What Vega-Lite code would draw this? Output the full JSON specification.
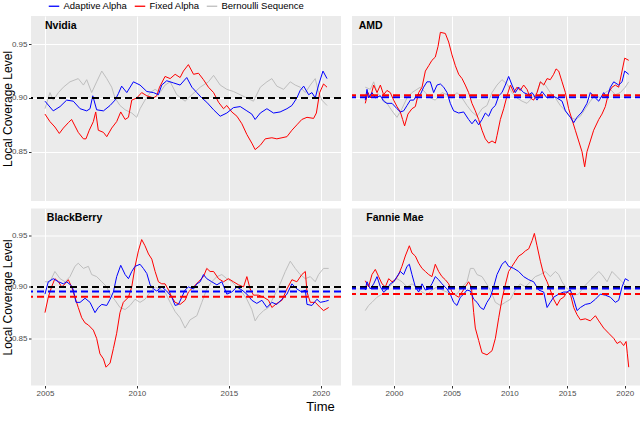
{
"$schema": "https://vega.github.io/schema/vega-lite/v6.json",
"padding": {"left": 1, "top": 0, "right": 0, "bottom": 0},
"background": "white",
"config": {
  "view": {"fill": "#EBEBEB", "stroke": null},
  "axis": {"domain": false, "gridColor": "#FFFFFF", "labelFont": "Liberation Sans", "labelFontSize": 8, "labelColor": "#4D4D4D", "labelPadding": 1.5, "tickColor": "#333333", "tickSize": 2.5, "tickWidth": 1, "titleFont": "Liberation Sans", "titleFontWeight": "normal", "titleFontSize": 12, "titleColor": "#000000", "labelOverlap": false, "labelFlush": false, "labelBound": false},
  "legend": {"symbolType": "stroke", "symbolStrokeWidth": 1.3, "symbolSize": 110, "labelFont": "Liberation Sans", "labelFontSize": 9.5, "labelColor": "#000000", "labelOffset": 3.5, "columnPadding": 4, "padding": 0, "symbolOffset": 0}
},
"datasets": {
"hlines": [
{"panel":"Nvidia","series":"Target","level":0.9},
{"panel":"AMD","series":"Adaptive Alpha","level":0.9006},{"panel":"AMD","series":"Fixed Alpha","level":0.9025},
{"panel":"BlackBerry","series":"Target","level":0.9},{"panel":"BlackBerry","series":"Adaptive Alpha","level":0.8955},{"panel":"BlackBerry","series":"Fixed Alpha","level":0.8905},
{"panel":"Fannie Mae","series":"Target","level":0.9},{"panel":"Fannie Mae","series":"Adaptive Alpha","level":0.8984},{"panel":"Fannie Mae","series":"Fixed Alpha","level":0.8932}
],
"lines": [
{"panel":"Nvidia","series":"Bernoulli Sequence","year":2005.00,"level":0.890},
{"panel":"Nvidia","series":"Bernoulli Sequence","year":2005.27,"level":0.905},
{"panel":"Nvidia","series":"Bernoulli Sequence","year":2005.45,"level":0.898},
{"panel":"Nvidia","series":"Bernoulli Sequence","year":2005.73,"level":0.905},
{"panel":"Nvidia","series":"Bernoulli Sequence","year":2006.00,"level":0.910},
{"panel":"Nvidia","series":"Bernoulli Sequence","year":2006.36,"level":0.915},
{"panel":"Nvidia","series":"Bernoulli Sequence","year":2006.81,"level":0.918},
{"panel":"Nvidia","series":"Bernoulli Sequence","year":2007.09,"level":0.912},
{"panel":"Nvidia","series":"Bernoulli Sequence","year":2007.27,"level":0.917},
{"panel":"Nvidia","series":"Bernoulli Sequence","year":2007.54,"level":0.905},
{"panel":"Nvidia","series":"Bernoulli Sequence","year":2007.81,"level":0.915},
{"panel":"Nvidia","series":"Bernoulli Sequence","year":2008.09,"level":0.925},
{"panel":"Nvidia","series":"Bernoulli Sequence","year":2008.36,"level":0.918},
{"panel":"Nvidia","series":"Bernoulli Sequence","year":2008.63,"level":0.910},
{"panel":"Nvidia","series":"Bernoulli Sequence","year":2008.81,"level":0.900},
{"panel":"Nvidia","series":"Bernoulli Sequence","year":2009.08,"level":0.893},
{"panel":"Nvidia","series":"Bernoulli Sequence","year":2009.36,"level":0.889},
{"panel":"Nvidia","series":"Bernoulli Sequence","year":2009.72,"level":0.886},
{"panel":"Nvidia","series":"Bernoulli Sequence","year":2009.99,"level":0.882},
{"panel":"Nvidia","series":"Bernoulli Sequence","year":2010.17,"level":0.890},
{"panel":"Nvidia","series":"Bernoulli Sequence","year":2010.44,"level":0.898},
{"panel":"Nvidia","series":"Bernoulli Sequence","year":2010.72,"level":0.905},
{"panel":"Nvidia","series":"Bernoulli Sequence","year":2010.99,"level":0.908},
{"panel":"Nvidia","series":"Bernoulli Sequence","year":2011.26,"level":0.905},
{"panel":"Nvidia","series":"Bernoulli Sequence","year":2011.53,"level":0.912},
{"panel":"Nvidia","series":"Bernoulli Sequence","year":2011.81,"level":0.915},
{"panel":"Nvidia","series":"Bernoulli Sequence","year":2012.17,"level":0.903},
{"panel":"Nvidia","series":"Bernoulli Sequence","year":2012.62,"level":0.897},
{"panel":"Nvidia","series":"Bernoulli Sequence","year":2012.99,"level":0.903},
{"panel":"Nvidia","series":"Bernoulli Sequence","year":2013.44,"level":0.910},
{"panel":"Nvidia","series":"Bernoulli Sequence","year":2013.89,"level":0.915},
{"panel":"Nvidia","series":"Bernoulli Sequence","year":2014.17,"level":0.921},
{"panel":"Nvidia","series":"Bernoulli Sequence","year":2014.53,"level":0.912},
{"panel":"Nvidia","series":"Bernoulli Sequence","year":2014.89,"level":0.908},
{"panel":"Nvidia","series":"Bernoulli Sequence","year":2015.25,"level":0.906},
{"panel":"Nvidia","series":"Bernoulli Sequence","year":2015.62,"level":0.903},
{"panel":"Nvidia","series":"Bernoulli Sequence","year":2015.98,"level":0.900},
{"panel":"Nvidia","series":"Bernoulli Sequence","year":2016.34,"level":0.897},
{"panel":"Nvidia","series":"Bernoulli Sequence","year":2016.71,"level":0.910},
{"panel":"Nvidia","series":"Bernoulli Sequence","year":2017.07,"level":0.915},
{"panel":"Nvidia","series":"Bernoulli Sequence","year":2017.34,"level":0.918},
{"panel":"Nvidia","series":"Bernoulli Sequence","year":2017.61,"level":0.911},
{"panel":"Nvidia","series":"Bernoulli Sequence","year":2017.98,"level":0.908},
{"panel":"Nvidia","series":"Bernoulli Sequence","year":2018.34,"level":0.915},
{"panel":"Nvidia","series":"Bernoulli Sequence","year":2018.61,"level":0.912},
{"panel":"Nvidia","series":"Bernoulli Sequence","year":2018.88,"level":0.910},
{"panel":"Nvidia","series":"Bernoulli Sequence","year":2019.16,"level":0.905},
{"panel":"Nvidia","series":"Bernoulli Sequence","year":2019.43,"level":0.912},
{"panel":"Nvidia","series":"Bernoulli Sequence","year":2019.70,"level":0.918},
{"panel":"Nvidia","series":"Bernoulli Sequence","year":2019.88,"level":0.905},
{"panel":"Nvidia","series":"Bernoulli Sequence","year":2020.06,"level":0.898},
{"panel":"Nvidia","series":"Bernoulli Sequence","year":2020.34,"level":0.893},
{"panel":"AMD","series":"Bernoulli Sequence","year":1997.51,"level":0.910},
{"panel":"AMD","series":"Bernoulli Sequence","year":1997.95,"level":0.908},
{"panel":"AMD","series":"Bernoulli Sequence","year":1998.24,"level":0.915},
{"panel":"AMD","series":"Bernoulli Sequence","year":1998.53,"level":0.905},
{"panel":"AMD","series":"Bernoulli Sequence","year":1998.96,"level":0.900},
{"panel":"AMD","series":"Bernoulli Sequence","year":1999.39,"level":0.895},
{"panel":"AMD","series":"Bernoulli Sequence","year":1999.83,"level":0.888},
{"panel":"AMD","series":"Bernoulli Sequence","year":2000.26,"level":0.882},
{"panel":"AMD","series":"Bernoulli Sequence","year":2000.69,"level":0.890},
{"panel":"AMD","series":"Bernoulli Sequence","year":2001.13,"level":0.900},
{"panel":"AMD","series":"Bernoulli Sequence","year":2001.56,"level":0.905},
{"panel":"AMD","series":"Bernoulli Sequence","year":2001.99,"level":0.908},
{"panel":"AMD","series":"Bernoulli Sequence","year":2002.28,"level":0.910},
{"panel":"AMD","series":"Bernoulli Sequence","year":2002.72,"level":0.905},
{"panel":"AMD","series":"Bernoulli Sequence","year":2003.15,"level":0.900},
{"panel":"AMD","series":"Bernoulli Sequence","year":2003.58,"level":0.898},
{"panel":"AMD","series":"Bernoulli Sequence","year":2004.16,"level":0.905},
{"panel":"AMD","series":"Bernoulli Sequence","year":2004.60,"level":0.903},
{"panel":"AMD","series":"Bernoulli Sequence","year":2005.03,"level":0.900},
{"panel":"AMD","series":"Bernoulli Sequence","year":2005.46,"level":0.905},
{"panel":"AMD","series":"Bernoulli Sequence","year":2005.90,"level":0.900},
{"panel":"AMD","series":"Bernoulli Sequence","year":2006.33,"level":0.893},
{"panel":"AMD","series":"Bernoulli Sequence","year":2006.76,"level":0.887},
{"panel":"AMD","series":"Bernoulli Sequence","year":2007.20,"level":0.883},
{"panel":"AMD","series":"Bernoulli Sequence","year":2007.63,"level":0.890},
{"panel":"AMD","series":"Bernoulli Sequence","year":2008.06,"level":0.893},
{"panel":"AMD","series":"Bernoulli Sequence","year":2008.50,"level":0.905},
{"panel":"AMD","series":"Bernoulli Sequence","year":2008.93,"level":0.912},
{"panel":"AMD","series":"Bernoulli Sequence","year":2009.36,"level":0.917},
{"panel":"AMD","series":"Bernoulli Sequence","year":2009.80,"level":0.913},
{"panel":"AMD","series":"Bernoulli Sequence","year":2010.23,"level":0.905},
{"panel":"AMD","series":"Bernoulli Sequence","year":2010.66,"level":0.900},
{"panel":"AMD","series":"Bernoulli Sequence","year":2011.10,"level":0.897},
{"panel":"AMD","series":"Bernoulli Sequence","year":2011.53,"level":0.895},
{"panel":"AMD","series":"Bernoulli Sequence","year":2011.97,"level":0.900},
{"panel":"AMD","series":"Bernoulli Sequence","year":2012.40,"level":0.905},
{"panel":"AMD","series":"Bernoulli Sequence","year":2012.69,"level":0.915},
{"panel":"AMD","series":"Bernoulli Sequence","year":2013.12,"level":0.912},
{"panel":"AMD","series":"Bernoulli Sequence","year":2013.55,"level":0.905},
{"panel":"AMD","series":"Bernoulli Sequence","year":2013.99,"level":0.900},
{"panel":"AMD","series":"Bernoulli Sequence","year":2014.42,"level":0.893},
{"panel":"AMD","series":"Bernoulli Sequence","year":2014.86,"level":0.888},
{"panel":"AMD","series":"Bernoulli Sequence","year":2015.29,"level":0.882},
{"panel":"AMD","series":"Bernoulli Sequence","year":2015.72,"level":0.880},
{"panel":"AMD","series":"Bernoulli Sequence","year":2016.16,"level":0.883},
{"panel":"AMD","series":"Bernoulli Sequence","year":2016.59,"level":0.890},
{"panel":"AMD","series":"Bernoulli Sequence","year":2017.02,"level":0.897},
{"panel":"AMD","series":"Bernoulli Sequence","year":2017.46,"level":0.903},
{"panel":"AMD","series":"Bernoulli Sequence","year":2017.89,"level":0.900},
{"panel":"AMD","series":"Bernoulli Sequence","year":2018.32,"level":0.905},
{"panel":"AMD","series":"Bernoulli Sequence","year":2018.76,"level":0.908},
{"panel":"AMD","series":"Bernoulli Sequence","year":2019.19,"level":0.903},
{"panel":"AMD","series":"Bernoulli Sequence","year":2019.62,"level":0.905},
{"panel":"AMD","series":"Bernoulli Sequence","year":2020.05,"level":0.910},
{"panel":"AMD","series":"Bernoulli Sequence","year":2020.35,"level":0.915},
{"panel":"BlackBerry","series":"Bernoulli Sequence","year":2005.00,"level":0.905},
{"panel":"BlackBerry","series":"Bernoulli Sequence","year":2005.27,"level":0.905},
{"panel":"BlackBerry","series":"Bernoulli Sequence","year":2005.54,"level":0.915},
{"panel":"BlackBerry","series":"Bernoulli Sequence","year":2005.82,"level":0.908},
{"panel":"BlackBerry","series":"Bernoulli Sequence","year":2006.09,"level":0.905},
{"panel":"BlackBerry","series":"Bernoulli Sequence","year":2006.36,"level":0.910},
{"panel":"BlackBerry","series":"Bernoulli Sequence","year":2006.63,"level":0.920},
{"panel":"BlackBerry","series":"Bernoulli Sequence","year":2006.81,"level":0.923},
{"panel":"BlackBerry","series":"Bernoulli Sequence","year":2007.09,"level":0.918},
{"panel":"BlackBerry","series":"Bernoulli Sequence","year":2007.36,"level":0.920},
{"panel":"BlackBerry","series":"Bernoulli Sequence","year":2007.54,"level":0.912},
{"panel":"BlackBerry","series":"Bernoulli Sequence","year":2007.81,"level":0.910},
{"panel":"BlackBerry","series":"Bernoulli Sequence","year":2008.09,"level":0.905},
{"panel":"BlackBerry","series":"Bernoulli Sequence","year":2008.36,"level":0.900},
{"panel":"BlackBerry","series":"Bernoulli Sequence","year":2008.54,"level":0.893},
{"panel":"BlackBerry","series":"Bernoulli Sequence","year":2008.81,"level":0.887},
{"panel":"BlackBerry","series":"Bernoulli Sequence","year":2009.08,"level":0.880},
{"panel":"BlackBerry","series":"Bernoulli Sequence","year":2009.36,"level":0.878},
{"panel":"BlackBerry","series":"Bernoulli Sequence","year":2009.63,"level":0.882},
{"panel":"BlackBerry","series":"Bernoulli Sequence","year":2009.90,"level":0.888},
{"panel":"BlackBerry","series":"Bernoulli Sequence","year":2010.17,"level":0.885},
{"panel":"BlackBerry","series":"Bernoulli Sequence","year":2010.44,"level":0.888},
{"panel":"BlackBerry","series":"Bernoulli Sequence","year":2010.72,"level":0.895},
{"panel":"BlackBerry","series":"Bernoulli Sequence","year":2010.99,"level":0.900},
{"panel":"BlackBerry","series":"Bernoulli Sequence","year":2011.26,"level":0.898},
{"panel":"BlackBerry","series":"Bernoulli Sequence","year":2011.53,"level":0.895},
{"panel":"BlackBerry","series":"Bernoulli Sequence","year":2011.81,"level":0.885},
{"panel":"BlackBerry","series":"Bernoulli Sequence","year":2012.08,"level":0.876},
{"panel":"BlackBerry","series":"Bernoulli Sequence","year":2012.35,"level":0.870},
{"panel":"BlackBerry","series":"Bernoulli Sequence","year":2012.62,"level":0.860},
{"panel":"BlackBerry","series":"Bernoulli Sequence","year":2012.89,"level":0.868},
{"panel":"BlackBerry","series":"Bernoulli Sequence","year":2013.26,"level":0.872},
{"panel":"BlackBerry","series":"Bernoulli Sequence","year":2013.53,"level":0.885},
{"panel":"BlackBerry","series":"Bernoulli Sequence","year":2013.80,"level":0.898},
{"panel":"BlackBerry","series":"Bernoulli Sequence","year":2014.07,"level":0.905},
{"panel":"BlackBerry","series":"Bernoulli Sequence","year":2014.35,"level":0.910},
{"panel":"BlackBerry","series":"Bernoulli Sequence","year":2014.62,"level":0.912},
{"panel":"BlackBerry","series":"Bernoulli Sequence","year":2014.89,"level":0.908},
{"panel":"BlackBerry","series":"Bernoulli Sequence","year":2015.16,"level":0.905},
{"panel":"BlackBerry","series":"Bernoulli Sequence","year":2015.44,"level":0.900},
{"panel":"BlackBerry","series":"Bernoulli Sequence","year":2015.71,"level":0.895},
{"panel":"BlackBerry","series":"Bernoulli Sequence","year":2015.98,"level":0.888},
{"panel":"BlackBerry","series":"Bernoulli Sequence","year":2016.25,"level":0.878},
{"panel":"BlackBerry","series":"Bernoulli Sequence","year":2016.43,"level":0.867},
{"panel":"BlackBerry","series":"Bernoulli Sequence","year":2016.61,"level":0.872},
{"panel":"BlackBerry","series":"Bernoulli Sequence","year":2016.89,"level":0.877},
{"panel":"BlackBerry","series":"Bernoulli Sequence","year":2017.16,"level":0.880},
{"panel":"BlackBerry","series":"Bernoulli Sequence","year":2017.43,"level":0.890},
{"panel":"BlackBerry","series":"Bernoulli Sequence","year":2017.79,"level":0.903},
{"panel":"BlackBerry","series":"Bernoulli Sequence","year":2018.07,"level":0.915},
{"panel":"BlackBerry","series":"Bernoulli Sequence","year":2018.34,"level":0.925},
{"panel":"BlackBerry","series":"Bernoulli Sequence","year":2018.61,"level":0.918},
{"panel":"BlackBerry","series":"Bernoulli Sequence","year":2018.88,"level":0.912},
{"panel":"BlackBerry","series":"Bernoulli Sequence","year":2019.16,"level":0.908},
{"panel":"BlackBerry","series":"Bernoulli Sequence","year":2019.43,"level":0.910},
{"panel":"BlackBerry","series":"Bernoulli Sequence","year":2019.70,"level":0.905},
{"panel":"BlackBerry","series":"Bernoulli Sequence","year":2019.88,"level":0.912},
{"panel":"BlackBerry","series":"Bernoulli Sequence","year":2020.15,"level":0.918},
{"panel":"BlackBerry","series":"Bernoulli Sequence","year":2020.43,"level":0.918},
{"panel":"Fannie Mae","series":"Bernoulli Sequence","year":1997.51,"level":0.877},
{"panel":"Fannie Mae","series":"Bernoulli Sequence","year":1997.80,"level":0.882},
{"panel":"Fannie Mae","series":"Bernoulli Sequence","year":1998.09,"level":0.885},
{"panel":"Fannie Mae","series":"Bernoulli Sequence","year":1998.53,"level":0.890},
{"panel":"Fannie Mae","series":"Bernoulli Sequence","year":1998.96,"level":0.893},
{"panel":"Fannie Mae","series":"Bernoulli Sequence","year":1999.39,"level":0.897},
{"panel":"Fannie Mae","series":"Bernoulli Sequence","year":1999.83,"level":0.903},
{"panel":"Fannie Mae","series":"Bernoulli Sequence","year":2000.26,"level":0.908},
{"panel":"Fannie Mae","series":"Bernoulli Sequence","year":2000.69,"level":0.905},
{"panel":"Fannie Mae","series":"Bernoulli Sequence","year":2001.13,"level":0.900},
{"panel":"Fannie Mae","series":"Bernoulli Sequence","year":2001.56,"level":0.903},
{"panel":"Fannie Mae","series":"Bernoulli Sequence","year":2001.99,"level":0.900},
{"panel":"Fannie Mae","series":"Bernoulli Sequence","year":2002.43,"level":0.895},
{"panel":"Fannie Mae","series":"Bernoulli Sequence","year":2002.86,"level":0.892},
{"panel":"Fannie Mae","series":"Bernoulli Sequence","year":2003.29,"level":0.897},
{"panel":"Fannie Mae","series":"Bernoulli Sequence","year":2003.73,"level":0.900},
{"panel":"Fannie Mae","series":"Bernoulli Sequence","year":2004.16,"level":0.897},
{"panel":"Fannie Mae","series":"Bernoulli Sequence","year":2004.60,"level":0.895},
{"panel":"Fannie Mae","series":"Bernoulli Sequence","year":2005.03,"level":0.893},
{"panel":"Fannie Mae","series":"Bernoulli Sequence","year":2005.46,"level":0.893},
{"panel":"Fannie Mae","series":"Bernoulli Sequence","year":2005.90,"level":0.900},
{"panel":"Fannie Mae","series":"Bernoulli Sequence","year":2006.33,"level":0.905},
{"panel":"Fannie Mae","series":"Bernoulli Sequence","year":2006.62,"level":0.918},
{"panel":"Fannie Mae","series":"Bernoulli Sequence","year":2006.91,"level":0.918},
{"panel":"Fannie Mae","series":"Bernoulli Sequence","year":2007.20,"level":0.912},
{"panel":"Fannie Mae","series":"Bernoulli Sequence","year":2007.63,"level":0.910},
{"panel":"Fannie Mae","series":"Bernoulli Sequence","year":2007.92,"level":0.905},
{"panel":"Fannie Mae","series":"Bernoulli Sequence","year":2008.35,"level":0.897},
{"panel":"Fannie Mae","series":"Bernoulli Sequence","year":2008.79,"level":0.885},
{"panel":"Fannie Mae","series":"Bernoulli Sequence","year":2009.22,"level":0.882},
{"panel":"Fannie Mae","series":"Bernoulli Sequence","year":2009.65,"level":0.885},
{"panel":"Fannie Mae","series":"Bernoulli Sequence","year":2010.09,"level":0.888},
{"panel":"Fannie Mae","series":"Bernoulli Sequence","year":2010.52,"level":0.897},
{"panel":"Fannie Mae","series":"Bernoulli Sequence","year":2010.95,"level":0.903},
{"panel":"Fannie Mae","series":"Bernoulli Sequence","year":2011.39,"level":0.900},
{"panel":"Fannie Mae","series":"Bernoulli Sequence","year":2011.82,"level":0.905},
{"panel":"Fannie Mae","series":"Bernoulli Sequence","year":2012.25,"level":0.910},
{"panel":"Fannie Mae","series":"Bernoulli Sequence","year":2012.69,"level":0.912},
{"panel":"Fannie Mae","series":"Bernoulli Sequence","year":2013.12,"level":0.915},
{"panel":"Fannie Mae","series":"Bernoulli Sequence","year":2013.55,"level":0.910},
{"panel":"Fannie Mae","series":"Bernoulli Sequence","year":2013.99,"level":0.915},
{"panel":"Fannie Mae","series":"Bernoulli Sequence","year":2014.28,"level":0.912},
{"panel":"Fannie Mae","series":"Bernoulli Sequence","year":2014.57,"level":0.905},
{"panel":"Fannie Mae","series":"Bernoulli Sequence","year":2014.86,"level":0.900},
{"panel":"Fannie Mae","series":"Bernoulli Sequence","year":2015.14,"level":0.897},
{"panel":"Fannie Mae","series":"Bernoulli Sequence","year":2015.58,"level":0.892},
{"panel":"Fannie Mae","series":"Bernoulli Sequence","year":2016.01,"level":0.893},
{"panel":"Fannie Mae","series":"Bernoulli Sequence","year":2016.45,"level":0.900},
{"panel":"Fannie Mae","series":"Bernoulli Sequence","year":2016.88,"level":0.905},
{"panel":"Fannie Mae","series":"Bernoulli Sequence","year":2017.31,"level":0.910},
{"panel":"Fannie Mae","series":"Bernoulli Sequence","year":2017.75,"level":0.915},
{"panel":"Fannie Mae","series":"Bernoulli Sequence","year":2018.03,"level":0.912},
{"panel":"Fannie Mae","series":"Bernoulli Sequence","year":2018.47,"level":0.905},
{"panel":"Fannie Mae","series":"Bernoulli Sequence","year":2018.90,"level":0.915},
{"panel":"Fannie Mae","series":"Bernoulli Sequence","year":2019.34,"level":0.910},
{"panel":"Fannie Mae","series":"Bernoulli Sequence","year":2019.77,"level":0.905},
{"panel":"Fannie Mae","series":"Bernoulli Sequence","year":2020.20,"level":0.900},
{"panel":"Nvidia","series":"Fixed Alpha","year":2005.00,"level":0.885},
{"panel":"Nvidia","series":"Fixed Alpha","year":2005.27,"level":0.878},
{"panel":"Nvidia","series":"Fixed Alpha","year":2005.54,"level":0.873},
{"panel":"Nvidia","series":"Fixed Alpha","year":2005.78,"level":0.867},
{"panel":"Nvidia","series":"Fixed Alpha","year":2006.00,"level":0.872},
{"panel":"Nvidia","series":"Fixed Alpha","year":2006.27,"level":0.877},
{"panel":"Nvidia","series":"Fixed Alpha","year":2006.45,"level":0.880},
{"panel":"Nvidia","series":"Fixed Alpha","year":2006.63,"level":0.874},
{"panel":"Nvidia","series":"Fixed Alpha","year":2006.81,"level":0.868},
{"panel":"Nvidia","series":"Fixed Alpha","year":2007.09,"level":0.862},
{"panel":"Nvidia","series":"Fixed Alpha","year":2007.23,"level":0.862},
{"panel":"Nvidia","series":"Fixed Alpha","year":2007.41,"level":0.870},
{"panel":"Nvidia","series":"Fixed Alpha","year":2007.63,"level":0.878},
{"panel":"Nvidia","series":"Fixed Alpha","year":2007.76,"level":0.887},
{"panel":"Nvidia","series":"Fixed Alpha","year":2007.90,"level":0.870},
{"panel":"Nvidia","series":"Fixed Alpha","year":2008.18,"level":0.868},
{"panel":"Nvidia","series":"Fixed Alpha","year":2008.36,"level":0.864},
{"panel":"Nvidia","series":"Fixed Alpha","year":2008.63,"level":0.872},
{"panel":"Nvidia","series":"Fixed Alpha","year":2008.90,"level":0.878},
{"panel":"Nvidia","series":"Fixed Alpha","year":2009.12,"level":0.887},
{"panel":"Nvidia","series":"Fixed Alpha","year":2009.36,"level":0.880},
{"panel":"Nvidia","series":"Fixed Alpha","year":2009.54,"level":0.882},
{"panel":"Nvidia","series":"Fixed Alpha","year":2009.72,"level":0.898},
{"panel":"Nvidia","series":"Fixed Alpha","year":2009.99,"level":0.900},
{"panel":"Nvidia","series":"Fixed Alpha","year":2010.26,"level":0.905},
{"panel":"Nvidia","series":"Fixed Alpha","year":2010.54,"level":0.902},
{"panel":"Nvidia","series":"Fixed Alpha","year":2010.90,"level":0.900},
{"panel":"Nvidia","series":"Fixed Alpha","year":2011.08,"level":0.902},
{"panel":"Nvidia","series":"Fixed Alpha","year":2011.23,"level":0.910},
{"panel":"Nvidia","series":"Fixed Alpha","year":2011.53,"level":0.920},
{"panel":"Nvidia","series":"Fixed Alpha","year":2011.81,"level":0.918},
{"panel":"Nvidia","series":"Fixed Alpha","year":2012.08,"level":0.922},
{"panel":"Nvidia","series":"Fixed Alpha","year":2012.35,"level":0.919},
{"panel":"Nvidia","series":"Fixed Alpha","year":2012.53,"level":0.925},
{"panel":"Nvidia","series":"Fixed Alpha","year":2012.80,"level":0.931},
{"panel":"Nvidia","series":"Fixed Alpha","year":2013.08,"level":0.922},
{"panel":"Nvidia","series":"Fixed Alpha","year":2013.35,"level":0.923},
{"panel":"Nvidia","series":"Fixed Alpha","year":2013.62,"level":0.917},
{"panel":"Nvidia","series":"Fixed Alpha","year":2013.89,"level":0.910},
{"panel":"Nvidia","series":"Fixed Alpha","year":2014.17,"level":0.905},
{"panel":"Nvidia","series":"Fixed Alpha","year":2014.44,"level":0.896},
{"panel":"Nvidia","series":"Fixed Alpha","year":2014.71,"level":0.890},
{"panel":"Nvidia","series":"Fixed Alpha","year":2014.89,"level":0.893},
{"panel":"Nvidia","series":"Fixed Alpha","year":2015.16,"level":0.887},
{"panel":"Nvidia","series":"Fixed Alpha","year":2015.44,"level":0.883},
{"panel":"Nvidia","series":"Fixed Alpha","year":2015.71,"level":0.876},
{"panel":"Nvidia","series":"Fixed Alpha","year":2015.98,"level":0.866},
{"panel":"Nvidia","series":"Fixed Alpha","year":2016.25,"level":0.858},
{"panel":"Nvidia","series":"Fixed Alpha","year":2016.43,"level":0.852},
{"panel":"Nvidia","series":"Fixed Alpha","year":2016.71,"level":0.856},
{"panel":"Nvidia","series":"Fixed Alpha","year":2016.98,"level":0.862},
{"panel":"Nvidia","series":"Fixed Alpha","year":2017.34,"level":0.863},
{"panel":"Nvidia","series":"Fixed Alpha","year":2017.61,"level":0.862},
{"panel":"Nvidia","series":"Fixed Alpha","year":2017.89,"level":0.863},
{"panel":"Nvidia","series":"Fixed Alpha","year":2018.16,"level":0.864},
{"panel":"Nvidia","series":"Fixed Alpha","year":2018.43,"level":0.870},
{"panel":"Nvidia","series":"Fixed Alpha","year":2018.70,"level":0.875},
{"panel":"Nvidia","series":"Fixed Alpha","year":2018.97,"level":0.880},
{"panel":"Nvidia","series":"Fixed Alpha","year":2019.25,"level":0.882},
{"panel":"Nvidia","series":"Fixed Alpha","year":2019.61,"level":0.881},
{"panel":"Nvidia","series":"Fixed Alpha","year":2019.76,"level":0.886},
{"panel":"Nvidia","series":"Fixed Alpha","year":2019.94,"level":0.905},
{"panel":"Nvidia","series":"Fixed Alpha","year":2020.15,"level":0.913},
{"panel":"Nvidia","series":"Fixed Alpha","year":2020.34,"level":0.910},
{"panel":"AMD","series":"Fixed Alpha","year":1997.51,"level":0.895},
{"panel":"AMD","series":"Fixed Alpha","year":1997.75,"level":0.905},
{"panel":"AMD","series":"Fixed Alpha","year":1997.95,"level":0.900},
{"panel":"AMD","series":"Fixed Alpha","year":1998.24,"level":0.912},
{"panel":"AMD","series":"Fixed Alpha","year":1998.53,"level":0.905},
{"panel":"AMD","series":"Fixed Alpha","year":1998.82,"level":0.912},
{"panel":"AMD","series":"Fixed Alpha","year":1999.10,"level":0.903},
{"panel":"AMD","series":"Fixed Alpha","year":1999.39,"level":0.907},
{"panel":"AMD","series":"Fixed Alpha","year":1999.68,"level":0.905},
{"panel":"AMD","series":"Fixed Alpha","year":1999.97,"level":0.898},
{"panel":"AMD","series":"Fixed Alpha","year":2000.26,"level":0.892},
{"panel":"AMD","series":"Fixed Alpha","year":2000.55,"level":0.887},
{"panel":"AMD","series":"Fixed Alpha","year":2000.75,"level":0.880},
{"panel":"AMD","series":"Fixed Alpha","year":2000.92,"level":0.874},
{"panel":"AMD","series":"Fixed Alpha","year":2001.21,"level":0.885},
{"panel":"AMD","series":"Fixed Alpha","year":2001.56,"level":0.890},
{"panel":"AMD","series":"Fixed Alpha","year":2001.85,"level":0.892},
{"panel":"AMD","series":"Fixed Alpha","year":2002.14,"level":0.905},
{"panel":"AMD","series":"Fixed Alpha","year":2002.43,"level":0.910},
{"panel":"AMD","series":"Fixed Alpha","year":2002.72,"level":0.925},
{"panel":"AMD","series":"Fixed Alpha","year":2003.01,"level":0.930},
{"panel":"AMD","series":"Fixed Alpha","year":2003.29,"level":0.935},
{"panel":"AMD","series":"Fixed Alpha","year":2003.58,"level":0.938},
{"panel":"AMD","series":"Fixed Alpha","year":2003.82,"level":0.948},
{"panel":"AMD","series":"Fixed Alpha","year":2004.02,"level":0.961},
{"panel":"AMD","series":"Fixed Alpha","year":2004.45,"level":0.960},
{"panel":"AMD","series":"Fixed Alpha","year":2004.74,"level":0.952},
{"panel":"AMD","series":"Fixed Alpha","year":2005.03,"level":0.940},
{"panel":"AMD","series":"Fixed Alpha","year":2005.32,"level":0.930},
{"panel":"AMD","series":"Fixed Alpha","year":2005.61,"level":0.922},
{"panel":"AMD","series":"Fixed Alpha","year":2005.90,"level":0.918},
{"panel":"AMD","series":"Fixed Alpha","year":2006.18,"level":0.912},
{"panel":"AMD","series":"Fixed Alpha","year":2006.47,"level":0.905},
{"panel":"AMD","series":"Fixed Alpha","year":2006.76,"level":0.895},
{"panel":"AMD","series":"Fixed Alpha","year":2007.05,"level":0.888},
{"panel":"AMD","series":"Fixed Alpha","year":2007.34,"level":0.880},
{"panel":"AMD","series":"Fixed Alpha","year":2007.63,"level":0.870},
{"panel":"AMD","series":"Fixed Alpha","year":2007.92,"level":0.862},
{"panel":"AMD","series":"Fixed Alpha","year":2008.21,"level":0.858},
{"panel":"AMD","series":"Fixed Alpha","year":2008.50,"level":0.860},
{"panel":"AMD","series":"Fixed Alpha","year":2008.79,"level":0.858},
{"panel":"AMD","series":"Fixed Alpha","year":2008.93,"level":0.865},
{"panel":"AMD","series":"Fixed Alpha","year":2009.22,"level":0.880},
{"panel":"AMD","series":"Fixed Alpha","year":2009.51,"level":0.890},
{"panel":"AMD","series":"Fixed Alpha","year":2009.80,"level":0.902},
{"panel":"AMD","series":"Fixed Alpha","year":2010.09,"level":0.912},
{"panel":"AMD","series":"Fixed Alpha","year":2010.38,"level":0.905},
{"panel":"AMD","series":"Fixed Alpha","year":2010.66,"level":0.910},
{"panel":"AMD","series":"Fixed Alpha","year":2010.95,"level":0.907},
{"panel":"AMD","series":"Fixed Alpha","year":2011.24,"level":0.912},
{"panel":"AMD","series":"Fixed Alpha","year":2011.53,"level":0.908},
{"panel":"AMD","series":"Fixed Alpha","year":2011.82,"level":0.900},
{"panel":"AMD","series":"Fixed Alpha","year":2012.11,"level":0.898},
{"panel":"AMD","series":"Fixed Alpha","year":2012.40,"level":0.905},
{"panel":"AMD","series":"Fixed Alpha","year":2012.69,"level":0.915},
{"panel":"AMD","series":"Fixed Alpha","year":2012.98,"level":0.912},
{"panel":"AMD","series":"Fixed Alpha","year":2013.27,"level":0.918},
{"panel":"AMD","series":"Fixed Alpha","year":2013.55,"level":0.917},
{"panel":"AMD","series":"Fixed Alpha","year":2013.84,"level":0.922},
{"panel":"AMD","series":"Fixed Alpha","year":2014.05,"level":0.927},
{"panel":"AMD","series":"Fixed Alpha","year":2014.28,"level":0.925},
{"panel":"AMD","series":"Fixed Alpha","year":2014.57,"level":0.915},
{"panel":"AMD","series":"Fixed Alpha","year":2014.86,"level":0.905},
{"panel":"AMD","series":"Fixed Alpha","year":2015.14,"level":0.890},
{"panel":"AMD","series":"Fixed Alpha","year":2015.43,"level":0.880},
{"panel":"AMD","series":"Fixed Alpha","year":2015.72,"level":0.870},
{"panel":"AMD","series":"Fixed Alpha","year":2016.01,"level":0.860},
{"panel":"AMD","series":"Fixed Alpha","year":2016.30,"level":0.850},
{"panel":"AMD","series":"Fixed Alpha","year":2016.53,"level":0.836},
{"panel":"AMD","series":"Fixed Alpha","year":2016.73,"level":0.850},
{"panel":"AMD","series":"Fixed Alpha","year":2017.02,"level":0.860},
{"panel":"AMD","series":"Fixed Alpha","year":2017.31,"level":0.870},
{"panel":"AMD","series":"Fixed Alpha","year":2017.75,"level":0.880},
{"panel":"AMD","series":"Fixed Alpha","year":2018.03,"level":0.885},
{"panel":"AMD","series":"Fixed Alpha","year":2018.32,"level":0.892},
{"panel":"AMD","series":"Fixed Alpha","year":2018.61,"level":0.905},
{"panel":"AMD","series":"Fixed Alpha","year":2018.90,"level":0.910},
{"panel":"AMD","series":"Fixed Alpha","year":2019.19,"level":0.912},
{"panel":"AMD","series":"Fixed Alpha","year":2019.48,"level":0.910},
{"panel":"AMD","series":"Fixed Alpha","year":2019.77,"level":0.925},
{"panel":"AMD","series":"Fixed Alpha","year":2020.00,"level":0.937},
{"panel":"AMD","series":"Fixed Alpha","year":2020.35,"level":0.935},
{"panel":"BlackBerry","series":"Fixed Alpha","year":2005.00,"level":0.875},
{"panel":"BlackBerry","series":"Fixed Alpha","year":2005.18,"level":0.890},
{"panel":"BlackBerry","series":"Fixed Alpha","year":2005.36,"level":0.900},
{"panel":"BlackBerry","series":"Fixed Alpha","year":2005.54,"level":0.908},
{"panel":"BlackBerry","series":"Fixed Alpha","year":2005.73,"level":0.905},
{"panel":"BlackBerry","series":"Fixed Alpha","year":2005.91,"level":0.900},
{"panel":"BlackBerry","series":"Fixed Alpha","year":2006.09,"level":0.903},
{"panel":"BlackBerry","series":"Fixed Alpha","year":2006.27,"level":0.907},
{"panel":"BlackBerry","series":"Fixed Alpha","year":2006.45,"level":0.900},
{"panel":"BlackBerry","series":"Fixed Alpha","year":2006.63,"level":0.890},
{"panel":"BlackBerry","series":"Fixed Alpha","year":2006.81,"level":0.880},
{"panel":"BlackBerry","series":"Fixed Alpha","year":2007.00,"level":0.870},
{"panel":"BlackBerry","series":"Fixed Alpha","year":2007.18,"level":0.865},
{"panel":"BlackBerry","series":"Fixed Alpha","year":2007.36,"level":0.863},
{"panel":"BlackBerry","series":"Fixed Alpha","year":2007.63,"level":0.858},
{"panel":"BlackBerry","series":"Fixed Alpha","year":2007.81,"level":0.850},
{"panel":"BlackBerry","series":"Fixed Alpha","year":2007.99,"level":0.835},
{"panel":"BlackBerry","series":"Fixed Alpha","year":2008.18,"level":0.830},
{"panel":"BlackBerry","series":"Fixed Alpha","year":2008.32,"level":0.822},
{"panel":"BlackBerry","series":"Fixed Alpha","year":2008.54,"level":0.826},
{"panel":"BlackBerry","series":"Fixed Alpha","year":2008.72,"level":0.840},
{"panel":"BlackBerry","series":"Fixed Alpha","year":2008.90,"level":0.855},
{"panel":"BlackBerry","series":"Fixed Alpha","year":2009.08,"level":0.875},
{"panel":"BlackBerry","series":"Fixed Alpha","year":2009.26,"level":0.885},
{"panel":"BlackBerry","series":"Fixed Alpha","year":2009.54,"level":0.890},
{"panel":"BlackBerry","series":"Fixed Alpha","year":2009.72,"level":0.900},
{"panel":"BlackBerry","series":"Fixed Alpha","year":2009.90,"level":0.920},
{"panel":"BlackBerry","series":"Fixed Alpha","year":2010.08,"level":0.935},
{"panel":"BlackBerry","series":"Fixed Alpha","year":2010.26,"level":0.946},
{"panel":"BlackBerry","series":"Fixed Alpha","year":2010.44,"level":0.940},
{"panel":"BlackBerry","series":"Fixed Alpha","year":2010.63,"level":0.932},
{"panel":"BlackBerry","series":"Fixed Alpha","year":2010.81,"level":0.927},
{"panel":"BlackBerry","series":"Fixed Alpha","year":2010.99,"level":0.915},
{"panel":"BlackBerry","series":"Fixed Alpha","year":2011.17,"level":0.905},
{"panel":"BlackBerry","series":"Fixed Alpha","year":2011.35,"level":0.903},
{"panel":"BlackBerry","series":"Fixed Alpha","year":2011.53,"level":0.903},
{"panel":"BlackBerry","series":"Fixed Alpha","year":2011.72,"level":0.897},
{"panel":"BlackBerry","series":"Fixed Alpha","year":2011.90,"level":0.890},
{"panel":"BlackBerry","series":"Fixed Alpha","year":2012.08,"level":0.885},
{"panel":"BlackBerry","series":"Fixed Alpha","year":2012.35,"level":0.883},
{"panel":"BlackBerry","series":"Fixed Alpha","year":2012.62,"level":0.887},
{"panel":"BlackBerry","series":"Fixed Alpha","year":2012.80,"level":0.895},
{"panel":"BlackBerry","series":"Fixed Alpha","year":2013.08,"level":0.900},
{"panel":"BlackBerry","series":"Fixed Alpha","year":2013.35,"level":0.905},
{"panel":"BlackBerry","series":"Fixed Alpha","year":2013.62,"level":0.910},
{"panel":"BlackBerry","series":"Fixed Alpha","year":2013.80,"level":0.918},
{"panel":"BlackBerry","series":"Fixed Alpha","year":2013.98,"level":0.915},
{"panel":"BlackBerry","series":"Fixed Alpha","year":2014.17,"level":0.915},
{"panel":"BlackBerry","series":"Fixed Alpha","year":2014.44,"level":0.908},
{"panel":"BlackBerry","series":"Fixed Alpha","year":2014.71,"level":0.905},
{"panel":"BlackBerry","series":"Fixed Alpha","year":2014.98,"level":0.908},
{"panel":"BlackBerry","series":"Fixed Alpha","year":2015.25,"level":0.905},
{"panel":"BlackBerry","series":"Fixed Alpha","year":2015.53,"level":0.902},
{"panel":"BlackBerry","series":"Fixed Alpha","year":2015.80,"level":0.900},
{"panel":"BlackBerry","series":"Fixed Alpha","year":2015.98,"level":0.910},
{"panel":"BlackBerry","series":"Fixed Alpha","year":2016.16,"level":0.898},
{"panel":"BlackBerry","series":"Fixed Alpha","year":2016.34,"level":0.892},
{"panel":"BlackBerry","series":"Fixed Alpha","year":2016.61,"level":0.892},
{"panel":"BlackBerry","series":"Fixed Alpha","year":2016.89,"level":0.890},
{"panel":"BlackBerry","series":"Fixed Alpha","year":2017.16,"level":0.887},
{"panel":"BlackBerry","series":"Fixed Alpha","year":2017.34,"level":0.880},
{"panel":"BlackBerry","series":"Fixed Alpha","year":2017.61,"level":0.884},
{"panel":"BlackBerry","series":"Fixed Alpha","year":2017.89,"level":0.887},
{"panel":"BlackBerry","series":"Fixed Alpha","year":2018.16,"level":0.898},
{"panel":"BlackBerry","series":"Fixed Alpha","year":2018.43,"level":0.907},
{"panel":"BlackBerry","series":"Fixed Alpha","year":2018.70,"level":0.905},
{"panel":"BlackBerry","series":"Fixed Alpha","year":2018.97,"level":0.912},
{"panel":"BlackBerry","series":"Fixed Alpha","year":2019.16,"level":0.915},
{"panel":"BlackBerry","series":"Fixed Alpha","year":2019.25,"level":0.895},
{"panel":"BlackBerry","series":"Fixed Alpha","year":2019.43,"level":0.885},
{"panel":"BlackBerry","series":"Fixed Alpha","year":2019.70,"level":0.885},
{"panel":"BlackBerry","series":"Fixed Alpha","year":2019.97,"level":0.880},
{"panel":"BlackBerry","series":"Fixed Alpha","year":2020.15,"level":0.877},
{"panel":"BlackBerry","series":"Fixed Alpha","year":2020.43,"level":0.880},
{"panel":"Fannie Mae","series":"Fixed Alpha","year":1997.51,"level":0.906},
{"panel":"Fannie Mae","series":"Fixed Alpha","year":1997.80,"level":0.900},
{"panel":"Fannie Mae","series":"Fixed Alpha","year":1998.09,"level":0.912},
{"panel":"Fannie Mae","series":"Fixed Alpha","year":1998.38,"level":0.917},
{"panel":"Fannie Mae","series":"Fixed Alpha","year":1998.67,"level":0.910},
{"panel":"Fannie Mae","series":"Fixed Alpha","year":1998.96,"level":0.903},
{"panel":"Fannie Mae","series":"Fixed Alpha","year":1999.25,"level":0.900},
{"panel":"Fannie Mae","series":"Fixed Alpha","year":1999.54,"level":0.908},
{"panel":"Fannie Mae","series":"Fixed Alpha","year":1999.83,"level":0.905},
{"panel":"Fannie Mae","series":"Fixed Alpha","year":2000.12,"level":0.907},
{"panel":"Fannie Mae","series":"Fixed Alpha","year":2000.40,"level":0.912},
{"panel":"Fannie Mae","series":"Fixed Alpha","year":2000.69,"level":0.920},
{"panel":"Fannie Mae","series":"Fixed Alpha","year":2000.98,"level":0.930},
{"panel":"Fannie Mae","series":"Fixed Alpha","year":2001.33,"level":0.940},
{"panel":"Fannie Mae","series":"Fixed Alpha","year":2001.56,"level":0.933},
{"panel":"Fannie Mae","series":"Fixed Alpha","year":2001.85,"level":0.930},
{"panel":"Fannie Mae","series":"Fixed Alpha","year":2002.14,"level":0.923},
{"panel":"Fannie Mae","series":"Fixed Alpha","year":2002.43,"level":0.918},
{"panel":"Fannie Mae","series":"Fixed Alpha","year":2002.72,"level":0.915},
{"panel":"Fannie Mae","series":"Fixed Alpha","year":2003.01,"level":0.912},
{"panel":"Fannie Mae","series":"Fixed Alpha","year":2003.29,"level":0.910},
{"panel":"Fannie Mae","series":"Fixed Alpha","year":2003.58,"level":0.922},
{"panel":"Fannie Mae","series":"Fixed Alpha","year":2003.87,"level":0.915},
{"panel":"Fannie Mae","series":"Fixed Alpha","year":2004.16,"level":0.910},
{"panel":"Fannie Mae","series":"Fixed Alpha","year":2004.45,"level":0.907},
{"panel":"Fannie Mae","series":"Fixed Alpha","year":2004.74,"level":0.903},
{"panel":"Fannie Mae","series":"Fixed Alpha","year":2005.03,"level":0.895},
{"panel":"Fannie Mae","series":"Fixed Alpha","year":2005.32,"level":0.892},
{"panel":"Fannie Mae","series":"Fixed Alpha","year":2005.61,"level":0.890},
{"panel":"Fannie Mae","series":"Fixed Alpha","year":2005.90,"level":0.895},
{"panel":"Fannie Mae","series":"Fixed Alpha","year":2006.18,"level":0.900},
{"panel":"Fannie Mae","series":"Fixed Alpha","year":2006.47,"level":0.905},
{"panel":"Fannie Mae","series":"Fixed Alpha","year":2006.71,"level":0.900},
{"panel":"Fannie Mae","series":"Fixed Alpha","year":2006.91,"level":0.875},
{"panel":"Fannie Mae","series":"Fixed Alpha","year":2007.05,"level":0.860},
{"panel":"Fannie Mae","series":"Fixed Alpha","year":2007.34,"level":0.848},
{"panel":"Fannie Mae","series":"Fixed Alpha","year":2007.63,"level":0.836},
{"panel":"Fannie Mae","series":"Fixed Alpha","year":2008.06,"level":0.834},
{"panel":"Fannie Mae","series":"Fixed Alpha","year":2008.50,"level":0.838},
{"panel":"Fannie Mae","series":"Fixed Alpha","year":2008.79,"level":0.850},
{"panel":"Fannie Mae","series":"Fixed Alpha","year":2009.08,"level":0.870},
{"panel":"Fannie Mae","series":"Fixed Alpha","year":2009.36,"level":0.888},
{"panel":"Fannie Mae","series":"Fixed Alpha","year":2009.65,"level":0.902},
{"panel":"Fannie Mae","series":"Fixed Alpha","year":2009.94,"level":0.915},
{"panel":"Fannie Mae","series":"Fixed Alpha","year":2010.23,"level":0.920},
{"panel":"Fannie Mae","series":"Fixed Alpha","year":2010.52,"level":0.925},
{"panel":"Fannie Mae","series":"Fixed Alpha","year":2010.81,"level":0.930},
{"panel":"Fannie Mae","series":"Fixed Alpha","year":2011.10,"level":0.932},
{"panel":"Fannie Mae","series":"Fixed Alpha","year":2011.39,"level":0.935},
{"panel":"Fannie Mae","series":"Fixed Alpha","year":2011.68,"level":0.937},
{"panel":"Fannie Mae","series":"Fixed Alpha","year":2011.97,"level":0.945},
{"panel":"Fannie Mae","series":"Fixed Alpha","year":2012.17,"level":0.952},
{"panel":"Fannie Mae","series":"Fixed Alpha","year":2012.40,"level":0.940},
{"panel":"Fannie Mae","series":"Fixed Alpha","year":2012.69,"level":0.925},
{"panel":"Fannie Mae","series":"Fixed Alpha","year":2012.98,"level":0.912},
{"panel":"Fannie Mae","series":"Fixed Alpha","year":2013.27,"level":0.905},
{"panel":"Fannie Mae","series":"Fixed Alpha","year":2013.55,"level":0.897},
{"panel":"Fannie Mae","series":"Fixed Alpha","year":2013.84,"level":0.888},
{"panel":"Fannie Mae","series":"Fixed Alpha","year":2014.13,"level":0.882},
{"panel":"Fannie Mae","series":"Fixed Alpha","year":2014.42,"level":0.888},
{"panel":"Fannie Mae","series":"Fixed Alpha","year":2014.71,"level":0.890},
{"panel":"Fannie Mae","series":"Fixed Alpha","year":2015.00,"level":0.895},
{"panel":"Fannie Mae","series":"Fixed Alpha","year":2015.29,"level":0.893},
{"panel":"Fannie Mae","series":"Fixed Alpha","year":2015.58,"level":0.880},
{"panel":"Fannie Mae","series":"Fixed Alpha","year":2015.87,"level":0.873},
{"panel":"Fannie Mae","series":"Fixed Alpha","year":2016.16,"level":0.868},
{"panel":"Fannie Mae","series":"Fixed Alpha","year":2016.59,"level":0.869},
{"panel":"Fannie Mae","series":"Fixed Alpha","year":2017.02,"level":0.867},
{"panel":"Fannie Mae","series":"Fixed Alpha","year":2017.46,"level":0.872},
{"panel":"Fannie Mae","series":"Fixed Alpha","year":2017.75,"level":0.867},
{"panel":"Fannie Mae","series":"Fixed Alpha","year":2018.18,"level":0.860},
{"panel":"Fannie Mae","series":"Fixed Alpha","year":2018.61,"level":0.855},
{"panel":"Fannie Mae","series":"Fixed Alpha","year":2019.05,"level":0.850},
{"panel":"Fannie Mae","series":"Fixed Alpha","year":2019.34,"level":0.845},
{"panel":"Fannie Mae","series":"Fixed Alpha","year":2019.62,"level":0.847},
{"panel":"Fannie Mae","series":"Fixed Alpha","year":2019.91,"level":0.843},
{"panel":"Fannie Mae","series":"Fixed Alpha","year":2020.12,"level":0.847},
{"panel":"Fannie Mae","series":"Fixed Alpha","year":2020.23,"level":0.835},
{"panel":"Fannie Mae","series":"Fixed Alpha","year":2020.35,"level":0.822},
{"panel":"Nvidia","series":"Adaptive Alpha","year":2005.00,"level":0.897},
{"panel":"Nvidia","series":"Adaptive Alpha","year":2005.45,"level":0.888},
{"panel":"Nvidia","series":"Adaptive Alpha","year":2005.82,"level":0.892},
{"panel":"Nvidia","series":"Adaptive Alpha","year":2006.18,"level":0.898},
{"panel":"Nvidia","series":"Adaptive Alpha","year":2006.54,"level":0.897},
{"panel":"Nvidia","series":"Adaptive Alpha","year":2006.91,"level":0.890},
{"panel":"Nvidia","series":"Adaptive Alpha","year":2007.27,"level":0.888},
{"panel":"Nvidia","series":"Adaptive Alpha","year":2007.45,"level":0.890},
{"panel":"Nvidia","series":"Adaptive Alpha","year":2007.60,"level":0.902},
{"panel":"Nvidia","series":"Adaptive Alpha","year":2007.81,"level":0.889},
{"panel":"Nvidia","series":"Adaptive Alpha","year":2008.18,"level":0.888},
{"panel":"Nvidia","series":"Adaptive Alpha","year":2008.54,"level":0.893},
{"panel":"Nvidia","series":"Adaptive Alpha","year":2008.81,"level":0.898},
{"panel":"Nvidia","series":"Adaptive Alpha","year":2008.99,"level":0.904},
{"panel":"Nvidia","series":"Adaptive Alpha","year":2009.17,"level":0.911},
{"panel":"Nvidia","series":"Adaptive Alpha","year":2009.45,"level":0.905},
{"panel":"Nvidia","series":"Adaptive Alpha","year":2009.81,"level":0.915},
{"panel":"Nvidia","series":"Adaptive Alpha","year":2010.17,"level":0.912},
{"panel":"Nvidia","series":"Adaptive Alpha","year":2010.54,"level":0.906},
{"panel":"Nvidia","series":"Adaptive Alpha","year":2010.90,"level":0.905},
{"panel":"Nvidia","series":"Adaptive Alpha","year":2011.17,"level":0.903},
{"panel":"Nvidia","series":"Adaptive Alpha","year":2011.35,"level":0.912},
{"panel":"Nvidia","series":"Adaptive Alpha","year":2011.62,"level":0.916},
{"panel":"Nvidia","series":"Adaptive Alpha","year":2011.99,"level":0.914},
{"panel":"Nvidia","series":"Adaptive Alpha","year":2012.35,"level":0.912},
{"panel":"Nvidia","series":"Adaptive Alpha","year":2012.71,"level":0.919},
{"panel":"Nvidia","series":"Adaptive Alpha","year":2012.99,"level":0.910},
{"panel":"Nvidia","series":"Adaptive Alpha","year":2013.26,"level":0.905},
{"panel":"Nvidia","series":"Adaptive Alpha","year":2013.53,"level":0.900},
{"panel":"Nvidia","series":"Adaptive Alpha","year":2013.80,"level":0.896},
{"panel":"Nvidia","series":"Adaptive Alpha","year":2014.17,"level":0.889},
{"panel":"Nvidia","series":"Adaptive Alpha","year":2014.53,"level":0.883},
{"panel":"Nvidia","series":"Adaptive Alpha","year":2014.89,"level":0.886},
{"panel":"Nvidia","series":"Adaptive Alpha","year":2015.25,"level":0.891},
{"panel":"Nvidia","series":"Adaptive Alpha","year":2015.62,"level":0.892},
{"panel":"Nvidia","series":"Adaptive Alpha","year":2015.98,"level":0.888},
{"panel":"Nvidia","series":"Adaptive Alpha","year":2016.25,"level":0.885},
{"panel":"Nvidia","series":"Adaptive Alpha","year":2016.43,"level":0.880},
{"panel":"Nvidia","series":"Adaptive Alpha","year":2016.71,"level":0.886},
{"panel":"Nvidia","series":"Adaptive Alpha","year":2017.07,"level":0.890},
{"panel":"Nvidia","series":"Adaptive Alpha","year":2017.43,"level":0.886},
{"panel":"Nvidia","series":"Adaptive Alpha","year":2017.79,"level":0.887},
{"panel":"Nvidia","series":"Adaptive Alpha","year":2018.16,"level":0.890},
{"panel":"Nvidia","series":"Adaptive Alpha","year":2018.43,"level":0.893},
{"panel":"Nvidia","series":"Adaptive Alpha","year":2018.70,"level":0.900},
{"panel":"Nvidia","series":"Adaptive Alpha","year":2018.88,"level":0.907},
{"panel":"Nvidia","series":"Adaptive Alpha","year":2019.07,"level":0.911},
{"panel":"Nvidia","series":"Adaptive Alpha","year":2019.34,"level":0.903},
{"panel":"Nvidia","series":"Adaptive Alpha","year":2019.52,"level":0.905},
{"panel":"Nvidia","series":"Adaptive Alpha","year":2019.70,"level":0.900},
{"panel":"Nvidia","series":"Adaptive Alpha","year":2019.88,"level":0.912},
{"panel":"Nvidia","series":"Adaptive Alpha","year":2020.12,"level":0.925},
{"panel":"Nvidia","series":"Adaptive Alpha","year":2020.34,"level":0.918},
{"panel":"AMD","series":"Adaptive Alpha","year":1997.51,"level":0.898},
{"panel":"AMD","series":"Adaptive Alpha","year":1997.66,"level":0.908},
{"panel":"AMD","series":"Adaptive Alpha","year":1997.80,"level":0.900},
{"panel":"AMD","series":"Adaptive Alpha","year":1998.09,"level":0.905},
{"panel":"AMD","series":"Adaptive Alpha","year":1998.38,"level":0.900},
{"panel":"AMD","series":"Adaptive Alpha","year":1998.82,"level":0.902},
{"panel":"AMD","series":"Adaptive Alpha","year":1999.10,"level":0.897},
{"panel":"AMD","series":"Adaptive Alpha","year":1999.39,"level":0.895},
{"panel":"AMD","series":"Adaptive Alpha","year":1999.83,"level":0.895},
{"panel":"AMD","series":"Adaptive Alpha","year":2000.26,"level":0.890},
{"panel":"AMD","series":"Adaptive Alpha","year":2000.55,"level":0.887},
{"panel":"AMD","series":"Adaptive Alpha","year":2000.84,"level":0.888},
{"panel":"AMD","series":"Adaptive Alpha","year":2001.13,"level":0.893},
{"panel":"AMD","series":"Adaptive Alpha","year":2001.42,"level":0.898},
{"panel":"AMD","series":"Adaptive Alpha","year":2001.71,"level":0.898},
{"panel":"AMD","series":"Adaptive Alpha","year":2001.99,"level":0.903},
{"panel":"AMD","series":"Adaptive Alpha","year":2002.28,"level":0.903},
{"panel":"AMD","series":"Adaptive Alpha","year":2002.57,"level":0.910},
{"panel":"AMD","series":"Adaptive Alpha","year":2002.86,"level":0.915},
{"panel":"AMD","series":"Adaptive Alpha","year":2003.15,"level":0.915},
{"panel":"AMD","series":"Adaptive Alpha","year":2003.44,"level":0.905},
{"panel":"AMD","series":"Adaptive Alpha","year":2003.73,"level":0.912},
{"panel":"AMD","series":"Adaptive Alpha","year":2004.02,"level":0.913},
{"panel":"AMD","series":"Adaptive Alpha","year":2004.31,"level":0.910},
{"panel":"AMD","series":"Adaptive Alpha","year":2004.60,"level":0.905},
{"panel":"AMD","series":"Adaptive Alpha","year":2004.88,"level":0.895},
{"panel":"AMD","series":"Adaptive Alpha","year":2005.17,"level":0.888},
{"panel":"AMD","series":"Adaptive Alpha","year":2005.61,"level":0.886},
{"panel":"AMD","series":"Adaptive Alpha","year":2006.04,"level":0.887},
{"panel":"AMD","series":"Adaptive Alpha","year":2006.47,"level":0.880},
{"panel":"AMD","series":"Adaptive Alpha","year":2006.76,"level":0.876},
{"panel":"AMD","series":"Adaptive Alpha","year":2007.05,"level":0.880},
{"panel":"AMD","series":"Adaptive Alpha","year":2007.34,"level":0.875},
{"panel":"AMD","series":"Adaptive Alpha","year":2007.63,"level":0.880},
{"panel":"AMD","series":"Adaptive Alpha","year":2007.92,"level":0.886},
{"panel":"AMD","series":"Adaptive Alpha","year":2008.21,"level":0.883},
{"panel":"AMD","series":"Adaptive Alpha","year":2008.50,"level":0.890},
{"panel":"AMD","series":"Adaptive Alpha","year":2008.79,"level":0.893},
{"panel":"AMD","series":"Adaptive Alpha","year":2009.08,"level":0.902},
{"panel":"AMD","series":"Adaptive Alpha","year":2009.36,"level":0.905},
{"panel":"AMD","series":"Adaptive Alpha","year":2009.65,"level":0.912},
{"panel":"AMD","series":"Adaptive Alpha","year":2009.94,"level":0.920},
{"panel":"AMD","series":"Adaptive Alpha","year":2010.23,"level":0.912},
{"panel":"AMD","series":"Adaptive Alpha","year":2010.52,"level":0.905},
{"panel":"AMD","series":"Adaptive Alpha","year":2010.81,"level":0.910},
{"panel":"AMD","series":"Adaptive Alpha","year":2011.24,"level":0.905},
{"panel":"AMD","series":"Adaptive Alpha","year":2011.68,"level":0.903},
{"panel":"AMD","series":"Adaptive Alpha","year":2011.97,"level":0.905},
{"panel":"AMD","series":"Adaptive Alpha","year":2012.40,"level":0.898},
{"panel":"AMD","series":"Adaptive Alpha","year":2012.83,"level":0.906},
{"panel":"AMD","series":"Adaptive Alpha","year":2013.27,"level":0.900},
{"panel":"AMD","series":"Adaptive Alpha","year":2013.70,"level":0.902},
{"panel":"AMD","series":"Adaptive Alpha","year":2014.13,"level":0.900},
{"panel":"AMD","series":"Adaptive Alpha","year":2014.57,"level":0.897},
{"panel":"AMD","series":"Adaptive Alpha","year":2014.86,"level":0.888},
{"panel":"AMD","series":"Adaptive Alpha","year":2015.29,"level":0.882},
{"panel":"AMD","series":"Adaptive Alpha","year":2015.58,"level":0.877},
{"panel":"AMD","series":"Adaptive Alpha","year":2015.87,"level":0.882},
{"panel":"AMD","series":"Adaptive Alpha","year":2016.30,"level":0.887},
{"panel":"AMD","series":"Adaptive Alpha","year":2016.73,"level":0.895},
{"panel":"AMD","series":"Adaptive Alpha","year":2017.02,"level":0.905},
{"panel":"AMD","series":"Adaptive Alpha","year":2017.46,"level":0.900},
{"panel":"AMD","series":"Adaptive Alpha","year":2017.75,"level":0.897},
{"panel":"AMD","series":"Adaptive Alpha","year":2018.18,"level":0.905},
{"panel":"AMD","series":"Adaptive Alpha","year":2018.47,"level":0.900},
{"panel":"AMD","series":"Adaptive Alpha","year":2018.76,"level":0.910},
{"panel":"AMD","series":"Adaptive Alpha","year":2019.05,"level":0.915},
{"panel":"AMD","series":"Adaptive Alpha","year":2019.48,"level":0.912},
{"panel":"AMD","series":"Adaptive Alpha","year":2019.77,"level":0.915},
{"panel":"AMD","series":"Adaptive Alpha","year":2020.00,"level":0.925},
{"panel":"AMD","series":"Adaptive Alpha","year":2020.35,"level":0.922},
{"panel":"BlackBerry","series":"Adaptive Alpha","year":2005.00,"level":0.893},
{"panel":"BlackBerry","series":"Adaptive Alpha","year":2005.18,"level":0.905},
{"panel":"BlackBerry","series":"Adaptive Alpha","year":2005.45,"level":0.908},
{"panel":"BlackBerry","series":"Adaptive Alpha","year":2005.73,"level":0.905},
{"panel":"BlackBerry","series":"Adaptive Alpha","year":2006.00,"level":0.903},
{"panel":"BlackBerry","series":"Adaptive Alpha","year":2006.18,"level":0.905},
{"panel":"BlackBerry","series":"Adaptive Alpha","year":2006.45,"level":0.901},
{"panel":"BlackBerry","series":"Adaptive Alpha","year":2006.54,"level":0.897},
{"panel":"BlackBerry","series":"Adaptive Alpha","year":2006.69,"level":0.885},
{"panel":"BlackBerry","series":"Adaptive Alpha","year":2006.91,"level":0.885},
{"panel":"BlackBerry","series":"Adaptive Alpha","year":2007.18,"level":0.889},
{"panel":"BlackBerry","series":"Adaptive Alpha","year":2007.45,"level":0.885},
{"panel":"BlackBerry","series":"Adaptive Alpha","year":2007.72,"level":0.875},
{"panel":"BlackBerry","series":"Adaptive Alpha","year":2007.90,"level":0.880},
{"panel":"BlackBerry","series":"Adaptive Alpha","year":2008.09,"level":0.883},
{"panel":"BlackBerry","series":"Adaptive Alpha","year":2008.36,"level":0.882},
{"panel":"BlackBerry","series":"Adaptive Alpha","year":2008.54,"level":0.888},
{"panel":"BlackBerry","series":"Adaptive Alpha","year":2008.72,"level":0.895},
{"panel":"BlackBerry","series":"Adaptive Alpha","year":2008.90,"level":0.910},
{"panel":"BlackBerry","series":"Adaptive Alpha","year":2009.12,"level":0.921},
{"panel":"BlackBerry","series":"Adaptive Alpha","year":2009.36,"level":0.912},
{"panel":"BlackBerry","series":"Adaptive Alpha","year":2009.54,"level":0.908},
{"panel":"BlackBerry","series":"Adaptive Alpha","year":2009.72,"level":0.915},
{"panel":"BlackBerry","series":"Adaptive Alpha","year":2009.90,"level":0.920},
{"panel":"BlackBerry","series":"Adaptive Alpha","year":2010.17,"level":0.922},
{"panel":"BlackBerry","series":"Adaptive Alpha","year":2010.35,"level":0.918},
{"panel":"BlackBerry","series":"Adaptive Alpha","year":2010.54,"level":0.913},
{"panel":"BlackBerry","series":"Adaptive Alpha","year":2010.72,"level":0.902},
{"panel":"BlackBerry","series":"Adaptive Alpha","year":2010.90,"level":0.898},
{"panel":"BlackBerry","series":"Adaptive Alpha","year":2011.08,"level":0.896},
{"panel":"BlackBerry","series":"Adaptive Alpha","year":2011.35,"level":0.900},
{"panel":"BlackBerry","series":"Adaptive Alpha","year":2011.62,"level":0.896},
{"panel":"BlackBerry","series":"Adaptive Alpha","year":2011.90,"level":0.890},
{"panel":"BlackBerry","series":"Adaptive Alpha","year":2012.08,"level":0.882},
{"panel":"BlackBerry","series":"Adaptive Alpha","year":2012.26,"level":0.883},
{"panel":"BlackBerry","series":"Adaptive Alpha","year":2012.44,"level":0.890},
{"panel":"BlackBerry","series":"Adaptive Alpha","year":2012.62,"level":0.897},
{"panel":"BlackBerry","series":"Adaptive Alpha","year":2012.80,"level":0.900},
{"panel":"BlackBerry","series":"Adaptive Alpha","year":2013.08,"level":0.898},
{"panel":"BlackBerry","series":"Adaptive Alpha","year":2013.26,"level":0.903},
{"panel":"BlackBerry","series":"Adaptive Alpha","year":2013.44,"level":0.905},
{"panel":"BlackBerry","series":"Adaptive Alpha","year":2013.62,"level":0.912},
{"panel":"BlackBerry","series":"Adaptive Alpha","year":2013.80,"level":0.908},
{"panel":"BlackBerry","series":"Adaptive Alpha","year":2014.07,"level":0.905},
{"panel":"BlackBerry","series":"Adaptive Alpha","year":2014.35,"level":0.902},
{"panel":"BlackBerry","series":"Adaptive Alpha","year":2014.62,"level":0.905},
{"panel":"BlackBerry","series":"Adaptive Alpha","year":2014.89,"level":0.893},
{"panel":"BlackBerry","series":"Adaptive Alpha","year":2015.16,"level":0.895},
{"panel":"BlackBerry","series":"Adaptive Alpha","year":2015.44,"level":0.900},
{"panel":"BlackBerry","series":"Adaptive Alpha","year":2015.71,"level":0.897},
{"panel":"BlackBerry","series":"Adaptive Alpha","year":2015.98,"level":0.893},
{"panel":"BlackBerry","series":"Adaptive Alpha","year":2016.25,"level":0.887},
{"panel":"BlackBerry","series":"Adaptive Alpha","year":2016.52,"level":0.884},
{"panel":"BlackBerry","series":"Adaptive Alpha","year":2016.80,"level":0.887},
{"panel":"BlackBerry","series":"Adaptive Alpha","year":2017.07,"level":0.880},
{"panel":"BlackBerry","series":"Adaptive Alpha","year":2017.34,"level":0.885},
{"panel":"BlackBerry","series":"Adaptive Alpha","year":2017.61,"level":0.883},
{"panel":"BlackBerry","series":"Adaptive Alpha","year":2017.89,"level":0.888},
{"panel":"BlackBerry","series":"Adaptive Alpha","year":2018.16,"level":0.893},
{"panel":"BlackBerry","series":"Adaptive Alpha","year":2018.43,"level":0.903},
{"panel":"BlackBerry","series":"Adaptive Alpha","year":2018.70,"level":0.898},
{"panel":"BlackBerry","series":"Adaptive Alpha","year":2018.97,"level":0.895},
{"panel":"BlackBerry","series":"Adaptive Alpha","year":2019.16,"level":0.897},
{"panel":"BlackBerry","series":"Adaptive Alpha","year":2019.25,"level":0.883},
{"panel":"BlackBerry","series":"Adaptive Alpha","year":2019.52,"level":0.882},
{"panel":"BlackBerry","series":"Adaptive Alpha","year":2019.79,"level":0.888},
{"panel":"BlackBerry","series":"Adaptive Alpha","year":2019.97,"level":0.885},
{"panel":"BlackBerry","series":"Adaptive Alpha","year":2020.25,"level":0.886},
{"panel":"BlackBerry","series":"Adaptive Alpha","year":2020.43,"level":0.887},
{"panel":"Fannie Mae","series":"Adaptive Alpha","year":1997.51,"level":0.897},
{"panel":"Fannie Mae","series":"Adaptive Alpha","year":1997.66,"level":0.905},
{"panel":"Fannie Mae","series":"Adaptive Alpha","year":1997.95,"level":0.898},
{"panel":"Fannie Mae","series":"Adaptive Alpha","year":1998.24,"level":0.903},
{"panel":"Fannie Mae","series":"Adaptive Alpha","year":1998.53,"level":0.910},
{"panel":"Fannie Mae","series":"Adaptive Alpha","year":1998.82,"level":0.900},
{"panel":"Fannie Mae","series":"Adaptive Alpha","year":1999.10,"level":0.895},
{"panel":"Fannie Mae","series":"Adaptive Alpha","year":1999.39,"level":0.898},
{"panel":"Fannie Mae","series":"Adaptive Alpha","year":1999.68,"level":0.903},
{"panel":"Fannie Mae","series":"Adaptive Alpha","year":1999.97,"level":0.905},
{"panel":"Fannie Mae","series":"Adaptive Alpha","year":2000.26,"level":0.910},
{"panel":"Fannie Mae","series":"Adaptive Alpha","year":2000.55,"level":0.915},
{"panel":"Fannie Mae","series":"Adaptive Alpha","year":2000.84,"level":0.912},
{"panel":"Fannie Mae","series":"Adaptive Alpha","year":2001.13,"level":0.920},
{"panel":"Fannie Mae","series":"Adaptive Alpha","year":2001.33,"level":0.922},
{"panel":"Fannie Mae","series":"Adaptive Alpha","year":2001.56,"level":0.912},
{"panel":"Fannie Mae","series":"Adaptive Alpha","year":2001.85,"level":0.900},
{"panel":"Fannie Mae","series":"Adaptive Alpha","year":2002.14,"level":0.895},
{"panel":"Fannie Mae","series":"Adaptive Alpha","year":2002.43,"level":0.903},
{"panel":"Fannie Mae","series":"Adaptive Alpha","year":2002.72,"level":0.897},
{"panel":"Fannie Mae","series":"Adaptive Alpha","year":2003.01,"level":0.898},
{"panel":"Fannie Mae","series":"Adaptive Alpha","year":2003.29,"level":0.903},
{"panel":"Fannie Mae","series":"Adaptive Alpha","year":2003.58,"level":0.910},
{"panel":"Fannie Mae","series":"Adaptive Alpha","year":2003.87,"level":0.907},
{"panel":"Fannie Mae","series":"Adaptive Alpha","year":2004.16,"level":0.903},
{"panel":"Fannie Mae","series":"Adaptive Alpha","year":2004.60,"level":0.898},
{"panel":"Fannie Mae","series":"Adaptive Alpha","year":2004.88,"level":0.893},
{"panel":"Fannie Mae","series":"Adaptive Alpha","year":2005.17,"level":0.885},
{"panel":"Fannie Mae","series":"Adaptive Alpha","year":2005.46,"level":0.882},
{"panel":"Fannie Mae","series":"Adaptive Alpha","year":2005.75,"level":0.890},
{"panel":"Fannie Mae","series":"Adaptive Alpha","year":2006.04,"level":0.893},
{"panel":"Fannie Mae","series":"Adaptive Alpha","year":2006.33,"level":0.897},
{"panel":"Fannie Mae","series":"Adaptive Alpha","year":2006.62,"level":0.896},
{"panel":"Fannie Mae","series":"Adaptive Alpha","year":2006.91,"level":0.888},
{"panel":"Fannie Mae","series":"Adaptive Alpha","year":2007.20,"level":0.885},
{"panel":"Fannie Mae","series":"Adaptive Alpha","year":2007.49,"level":0.880},
{"panel":"Fannie Mae","series":"Adaptive Alpha","year":2007.77,"level":0.878},
{"panel":"Fannie Mae","series":"Adaptive Alpha","year":2008.06,"level":0.885},
{"panel":"Fannie Mae","series":"Adaptive Alpha","year":2008.35,"level":0.890},
{"panel":"Fannie Mae","series":"Adaptive Alpha","year":2008.64,"level":0.900},
{"panel":"Fannie Mae","series":"Adaptive Alpha","year":2008.93,"level":0.912},
{"panel":"Fannie Mae","series":"Adaptive Alpha","year":2009.36,"level":0.922},
{"panel":"Fannie Mae","series":"Adaptive Alpha","year":2009.65,"level":0.925},
{"panel":"Fannie Mae","series":"Adaptive Alpha","year":2009.94,"level":0.920},
{"panel":"Fannie Mae","series":"Adaptive Alpha","year":2010.38,"level":0.918},
{"panel":"Fannie Mae","series":"Adaptive Alpha","year":2010.81,"level":0.915},
{"panel":"Fannie Mae","series":"Adaptive Alpha","year":2011.24,"level":0.910},
{"panel":"Fannie Mae","series":"Adaptive Alpha","year":2011.68,"level":0.907},
{"panel":"Fannie Mae","series":"Adaptive Alpha","year":2012.11,"level":0.905},
{"panel":"Fannie Mae","series":"Adaptive Alpha","year":2012.54,"level":0.897},
{"panel":"Fannie Mae","series":"Adaptive Alpha","year":2012.98,"level":0.895},
{"panel":"Fannie Mae","series":"Adaptive Alpha","year":2013.27,"level":0.880},
{"panel":"Fannie Mae","series":"Adaptive Alpha","year":2013.55,"level":0.885},
{"panel":"Fannie Mae","series":"Adaptive Alpha","year":2013.84,"level":0.890},
{"panel":"Fannie Mae","series":"Adaptive Alpha","year":2014.28,"level":0.893},
{"panel":"Fannie Mae","series":"Adaptive Alpha","year":2014.71,"level":0.895},
{"panel":"Fannie Mae","series":"Adaptive Alpha","year":2015.00,"level":0.895},
{"panel":"Fannie Mae","series":"Adaptive Alpha","year":2015.29,"level":0.897},
{"panel":"Fannie Mae","series":"Adaptive Alpha","year":2015.58,"level":0.888},
{"panel":"Fannie Mae","series":"Adaptive Alpha","year":2015.87,"level":0.877},
{"panel":"Fannie Mae","series":"Adaptive Alpha","year":2016.16,"level":0.880},
{"panel":"Fannie Mae","series":"Adaptive Alpha","year":2016.59,"level":0.883},
{"panel":"Fannie Mae","series":"Adaptive Alpha","year":2017.02,"level":0.884},
{"panel":"Fannie Mae","series":"Adaptive Alpha","year":2017.46,"level":0.888},
{"panel":"Fannie Mae","series":"Adaptive Alpha","year":2017.89,"level":0.893},
{"panel":"Fannie Mae","series":"Adaptive Alpha","year":2018.32,"level":0.892},
{"panel":"Fannie Mae","series":"Adaptive Alpha","year":2018.76,"level":0.890},
{"panel":"Fannie Mae","series":"Adaptive Alpha","year":2019.19,"level":0.885},
{"panel":"Fannie Mae","series":"Adaptive Alpha","year":2019.48,"level":0.887},
{"panel":"Fannie Mae","series":"Adaptive Alpha","year":2019.77,"level":0.900},
{"panel":"Fannie Mae","series":"Adaptive Alpha","year":2020.05,"level":0.908},
{"panel":"Fannie Mae","series":"Adaptive Alpha","year":2020.35,"level":0.906}
]
},
"spacing": 7.5,
"vconcat": [
{"spacing": 9, "hconcat": [
 {"width": 310, "height": 185, "resolve": {"axis": {"x": "independent", "y": "independent"}}, "layer": [
  {"data": {"name": "lines"}, "transform": [{"filter": "datum.panel === 'Nvidia'"}],
   "mark": {"type": "line", "strokeWidth": 1},
   "encoding": {
    "x": {"field": "year", "type": "quantitative", "scale": {"domain": [2004.24, 2021.1], "nice": false, "zero": false},
      "axis": {"orient": "bottom", "values": [2005, 2010, 2015, 2020], "labels": false, "ticks": false, "title": null, "gridWidth": 1.1}},
    "y": {"field": "level", "type": "quantitative", "scale": {"domain": [0.8042, 0.9762], "nice": false, "zero": false},
      "axis": {"orient": "left", "values": [0.85, 0.9, 0.95], "format": ".2f", "gridWidth": 1.1, "title": "Local Coverage Level", "titleX": -20, "titleBaseline": "alphabetic"}},
    "color": {"field": "series", "type": "nominal", "scale": {"domain": ["Adaptive Alpha", "Fixed Alpha", "Bernoulli Sequence", "Target"], "range": ["#0000FF", "#FF0000", "#BEBEBE", "#000000"]},
      "legend": {"values": ["Adaptive Alpha", "Fixed Alpha", "Bernoulli Sequence"], "orient": "none", "legendX": 17, "legendY": -16, "direction": "horizontal", "title": null}}
   }},
  {"data": {"name": "hlines"}, "transform": [{"filter": "datum.panel === 'Nvidia'"}],
   "mark": {"type": "rule", "strokeDash": [7, 4], "strokeWidth": 2},
   "encoding": {"y": {"field": "level", "type": "quantitative", "axis": null}, "color": {"field": "series", "type": "nominal"}}},
  {"data": {"values": [{"panel": "Nvidia"}]},
   "mark": {"type": "text", "align": "left", "baseline": "middle", "font": "Liberation Sans", "fontSize": 10.5, "fontWeight": "bold", "color": "#000000"},
   "encoding": {
    "x": {"datum": 2005, "axis": {"orient": "top", "values": [2007.5, 2012.5, 2017.5], "labels": false, "ticks": false, "title": null, "gridWidth": 0.55}},
    "y": {"datum": 0.967, "axis": {"orient": "right", "values": [0.825, 0.875, 0.925, 0.975], "labels": false, "ticks": false, "title": null, "gridWidth": 0.55}},
    "text": {"field": "panel"}}}
 ]},
 {"width": 290, "height": 185, "resolve": {"axis": {"x": "independent", "y": "independent"}}, "layer": [
  {"data": {"name": "lines"}, "transform": [{"filter": "datum.panel === 'AMD'"}],
   "mark": {"type": "line", "strokeWidth": 1},
   "encoding": {
    "x": {"field": "year", "type": "quantitative", "scale": {"domain": [1996.36, 2021.5], "nice": false, "zero": false},
      "axis": {"orient": "bottom", "values": [2000, 2005, 2010, 2015, 2020], "labels": false, "ticks": false, "title": null, "gridWidth": 1.1}},
    "y": {"field": "level", "type": "quantitative", "scale": {"domain": [0.8042, 0.9762], "nice": false, "zero": false},
      "axis": {"orient": "left", "values": [0.85, 0.9, 0.95], "labels": false, "ticks": false, "title": null, "gridWidth": 1.1}},
    "color": {"field": "series", "type": "nominal", "scale": {"domain": ["Adaptive Alpha", "Fixed Alpha", "Bernoulli Sequence", "Target"], "range": ["#0000FF", "#FF0000", "#BEBEBE", "#000000"]},
      "legend": {"values": ["Adaptive Alpha", "Fixed Alpha", "Bernoulli Sequence"], "orient": "none", "legendX": 17, "legendY": -16, "direction": "horizontal", "title": null}}
   }},
  {"data": {"name": "hlines"}, "transform": [{"filter": "datum.panel === 'AMD'"}],
   "mark": {"type": "rule", "strokeDash": [7, 4], "strokeWidth": 2},
   "encoding": {"y": {"field": "level", "type": "quantitative", "axis": null}, "color": {"field": "series", "type": "nominal"}}},
  {"data": {"values": [{"panel": "AMD"}]},
   "mark": {"type": "text", "align": "left", "baseline": "middle", "font": "Liberation Sans", "fontSize": 10.5, "fontWeight": "bold", "color": "#000000"},
   "encoding": {
    "x": {"datum": 1996.94, "axis": {"orient": "top", "values": [1997.5, 2002.5, 2007.5, 2012.5, 2017.5], "labels": false, "ticks": false, "title": null, "gridWidth": 0.55}},
    "y": {"datum": 0.967, "axis": {"orient": "right", "values": [0.825, 0.875, 0.925, 0.975], "labels": false, "ticks": false, "title": null, "gridWidth": 0.55}},
    "text": {"field": "panel"}}}
 ]}
]},
{"spacing": 9, "hconcat": [
 {"width": 310, "height": 177, "resolve": {"axis": {"x": "independent", "y": "independent"}}, "layer": [
  {"data": {"name": "lines"}, "transform": [{"filter": "datum.panel === 'BlackBerry'"}],
   "mark": {"type": "line", "strokeWidth": 1},
   "encoding": {
    "x": {"field": "year", "type": "quantitative", "scale": {"domain": [2004.24, 2021.1], "nice": false, "zero": false},
      "axis": {"orient": "bottom", "values": [2005, 2010, 2015, 2020], "format": "d", "gridWidth": 1.1, "title": "Time", "titleX": 289, "titleY": 25, "titleAlign": "center", "titleBaseline": "alphabetic", "titleFontSize": 13}},
    "y": {"field": "level", "type": "quantitative", "scale": {"domain": [0.8042, 0.9762], "nice": false, "zero": false},
      "axis": {"orient": "left", "values": [0.85, 0.9, 0.95], "format": ".2f", "gridWidth": 1.1, "title": "Local Coverage Level", "titleX": -20, "titleBaseline": "alphabetic"}},
    "color": {"field": "series", "type": "nominal", "scale": {"domain": ["Adaptive Alpha", "Fixed Alpha", "Bernoulli Sequence", "Target"], "range": ["#0000FF", "#FF0000", "#BEBEBE", "#000000"]},
      "legend": {"values": ["Adaptive Alpha", "Fixed Alpha", "Bernoulli Sequence"], "orient": "none", "legendX": 17, "legendY": -16, "direction": "horizontal", "title": null}}
   }},
  {"data": {"name": "hlines"}, "transform": [{"filter": "datum.panel === 'BlackBerry'"}],
   "mark": {"type": "rule", "strokeDash": [7, 4], "strokeWidth": 2},
   "encoding": {"y": {"field": "level", "type": "quantitative", "axis": null}, "color": {"field": "series", "type": "nominal"}}},
  {"data": {"values": [{"panel": "BlackBerry"}]},
   "mark": {"type": "text", "align": "left", "baseline": "middle", "font": "Liberation Sans", "fontSize": 10.5, "fontWeight": "bold", "color": "#000000"},
   "encoding": {
    "x": {"datum": 2005.1, "axis": {"orient": "top", "values": [2007.5, 2012.5, 2017.5], "labels": false, "ticks": false, "title": null, "gridWidth": 0.55}},
    "y": {"datum": 0.967, "axis": {"orient": "right", "values": [0.825, 0.875, 0.925, 0.975], "labels": false, "ticks": false, "title": null, "gridWidth": 0.55}},
    "text": {"field": "panel"}}}
 ]},
 {"width": 290, "height": 177, "resolve": {"axis": {"x": "independent", "y": "independent"}}, "layer": [
  {"data": {"name": "lines"}, "transform": [{"filter": "datum.panel === 'Fannie Mae'"}],
   "mark": {"type": "line", "strokeWidth": 1},
   "encoding": {
    "x": {"field": "year", "type": "quantitative", "scale": {"domain": [1996.36, 2021.5], "nice": false, "zero": false},
      "axis": {"orient": "bottom", "values": [2000, 2005, 2010, 2015, 2020], "format": "d", "gridWidth": 1.1, "title": null}},
    "y": {"field": "level", "type": "quantitative", "scale": {"domain": [0.8042, 0.9762], "nice": false, "zero": false},
      "axis": {"orient": "left", "values": [0.85, 0.9, 0.95], "labels": false, "ticks": false, "title": null, "gridWidth": 1.1}},
    "color": {"field": "series", "type": "nominal", "scale": {"domain": ["Adaptive Alpha", "Fixed Alpha", "Bernoulli Sequence", "Target"], "range": ["#0000FF", "#FF0000", "#BEBEBE", "#000000"]},
      "legend": {"values": ["Adaptive Alpha", "Fixed Alpha", "Bernoulli Sequence"], "orient": "none", "legendX": 17, "legendY": -16, "direction": "horizontal", "title": null}}
   }},
  {"data": {"name": "hlines"}, "transform": [{"filter": "datum.panel === 'Fannie Mae'"}],
   "mark": {"type": "rule", "strokeDash": [7, 4], "strokeWidth": 2},
   "encoding": {"y": {"field": "level", "type": "quantitative", "axis": null}, "color": {"field": "series", "type": "nominal"}}},
  {"data": {"values": [{"panel": "Fannie Mae"}]},
   "mark": {"type": "text", "align": "left", "baseline": "middle", "font": "Liberation Sans", "fontSize": 10.5, "fontWeight": "bold", "color": "#000000"},
   "encoding": {
    "x": {"datum": 1997.6, "axis": {"orient": "top", "values": [1997.5, 2002.5, 2007.5, 2012.5, 2017.5], "labels": false, "ticks": false, "title": null, "gridWidth": 0.55}},
    "y": {"datum": 0.967, "axis": {"orient": "right", "values": [0.825, 0.875, 0.925, 0.975], "labels": false, "ticks": false, "title": null, "gridWidth": 0.55}},
    "text": {"field": "panel"}}}
 ]}
]}
]
}
